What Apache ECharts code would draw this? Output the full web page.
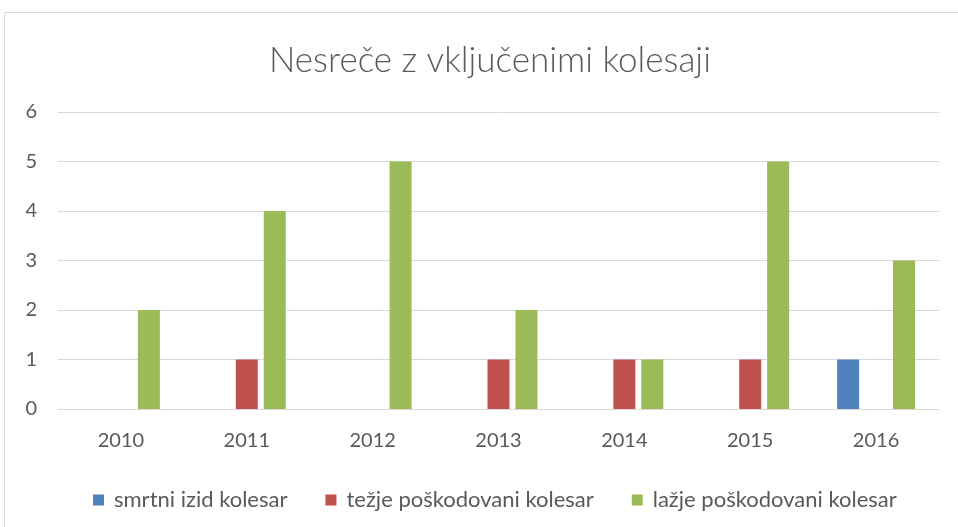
<!DOCTYPE html>
<html><head><meta charset="utf-8">
<script src="https://cdn.jsdelivr.net/npm/echarts@6/dist/echarts.min.js"></script>
<style>html,body{margin:0;padding:0;background:#fff}#c{width:958px;height:527px}</style>
</head><body><div id="c"></div>
<script>
const categories = ['2010','2011','2012','2013','2014','2015','2016'];
const seriesNames = ['smrtni izid kolesar','težje poškodovani kolesar','lažje poškodovani kolesar'];
const smrtni = [0,0,0,0,0,0,1];
const tezje = [0,1,0,1,1,1,0];
const lazje = [2,4,5,2,1,5,3];
const colors = ['#4F81BD','#C0504D','#9BBB59'];
const font = 'Lato, "Open Sans", sans-serif';
const chart = echarts.init(document.getElementById('c'));
const mk = (name, data, i) => ({
  name, type:'bar', data, barWidth:22, barGap:'27%',
  itemStyle:{color:colors[i]}
});
chart.setOption({
  animation:false,
  textStyle:{fontFamily:font},
  graphic:[{type:'rect',shape:{x:4.5,y:12.5,width:1000,height:600},style:{fill:'none',stroke:'#D9D9D9',lineWidth:1},silent:true}],
  title:{text:'Nesreče z vključenimi kolesaji',left:264,top:38,
    textStyle:{fontFamily:font,fontWeight:300,fontSize:35,color:'#595959'}},
  legend:{top:484,left:88,itemWidth:11,itemHeight:11,itemGap:38,icon:'rect',
    textStyle:{fontFamily:font,fontSize:22,color:'#595959',padding:[0,0,0,5]},data:seriesNames},
  grid:{left:58,right:19,top:112,bottom:118},
  xAxis:{type:'category',data:categories,
    axisLine:{lineStyle:{color:'#D9D9D9',width:1}},axisTick:{show:false},
    axisLabel:{color:'#595959',fontSize:20,margin:22,fontFamily:font}},
  yAxis:{type:'value',min:0,max:6,interval:1,
    axisLine:{show:false},axisTick:{show:false},
    splitLine:{lineStyle:{color:'#D9D9D9',width:1}},
    axisLabel:{color:'#595959',fontSize:20,margin:21,fontFamily:font}},
  series:[mk(seriesNames[0],smrtni,0),mk(seriesNames[1],tezje,1),mk(seriesNames[2],lazje,2)]
});
</script></body></html>
